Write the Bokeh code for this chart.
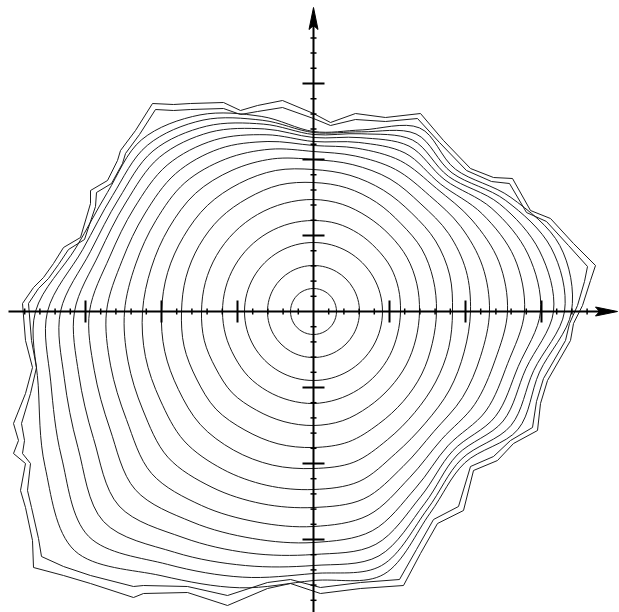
import math
from bokeh.plotting import figure
from bokeh.models import Range1d
from bokeh.embed import file_html
from bokeh.resources import INLINE

# ---- data (units: 1 unit ~ 1 px; minor tick every 15.2 units) ----
TICK_STEP = 15.2
N_TICKS = 19

ANGLES = [0, 15, 30, 45, 60, 75, 90, 105, 120, 135, 150, 165,
          180, 195, 210, 225, 240, 255, 270, 285, 300, 315, 330, 345]
R01 = [23] * 24
R02 = [46] * 24
R03 = [69] * 24
R04 = [87, 88, 89, 89, 90, 91, 91, 91, 91, 91, 91, 91,
       91, 91, 91, 92, 92, 92, 92, 91, 90, 89, 88, 87]
R05 = [106, 107, 108, 108, 109, 111, 112, 112, 112, 112, 112, 112,
       112, 113, 113, 115, 114, 114, 114, 113, 110, 108, 107, 106]
R06 = [123, 124, 125, 124, 126, 128, 129, 131, 131, 132, 132, 132,
       132, 134, 135, 138, 137, 137, 136, 135, 130, 127, 125, 123]
R07 = [139, 141, 141, 139, 140, 141, 142, 146, 148, 150, 150, 151,
       152, 154, 156, 160, 160, 159, 157, 156, 148, 143, 141, 140]
R08 = [157, 158, 156, 152, 153, 152, 152, 158, 163, 167, 167, 168,
       171, 174, 177, 183, 182, 180, 178, 176, 164, 158, 157, 156]
R09 = [176, 175, 170, 164, 164, 161, 160, 168, 176, 182, 182, 184,
       189, 192, 197, 206, 203, 199, 196, 194, 179, 170, 172, 173]
R10 = [194, 192, 183, 174, 174, 169, 166, 176, 188, 195, 195, 198,
       207, 210, 216, 229, 224, 218, 215, 211, 192, 181, 186, 188]
R11 = [211, 208, 195, 180, 183, 175, 170, 183, 198, 207, 207, 211,
       224, 227, 235, 252, 243, 235, 231, 227, 204, 190, 199, 201]
R12 = [227, 222, 206, 186, 191, 180, 174, 189, 207, 218, 217, 222,
       239, 243, 254, 275, 261, 250, 243, 241, 214, 197, 210, 212]
R13 = [240, 234, 215, 191, 198, 184, 177, 194, 214, 227, 225, 231,
       253, 258, 272, 297, 278, 263, 254, 253, 222, 203, 219, 220]
R14 = [251, 246, 222, 196, 205, 186, 179, 198, 221, 235, 232, 239,
       266, 272, 291, 318, 292, 275, 262, 263, 228, 209, 228, 228]
R15 = [258, 255, 228, 201, 212, 188, 180, 202, 227, 243, 238, 246,
       278, 285, 310, 338, 305, 286, 269, 272, 233, 214, 236, 234]
CONTOURS = [R01, R02, R03, R04, R05, R06, R07, R08, R09, R10, R11, R12,
            R13, R14, R15]

# second-outermost (rough) front, traced as vertices
SECOND_X = [0, 17, 42, 72, 104, 126, 153, 178, 196, 213, 233, 255, 274, 271,
            264, 256, 252, 230, 223, 219, 197, 180, 157, 145, 120, 103, 86,
            47, 7, -23, -46, -86, -126, -170, -180, -223, -250, -272, -275,
            -282, -286, -283, -291, -289, -292, -283, -277, -282, -285, -275,
            -265, -255, -245, -229, -218, -217, -202, -191, -188, -174, -158,
            -140, -123, -90, -73, -56, -31]
SECOND_Y = [193, 186, 192, 190, 193, 169, 141, 130, 128, 99, 90, 66, 45, 30,
            6, -12, -29, -67, -90, -116, -129, -145, -155, -195, -208, -238,
            -268, -271, -276, -268, -271, -284, -275, -274, -275, -264, -255,
            -245, -227, -196, -179, -152, -142, -129, -112, -82, -56, -29, 8,
            23, 33, 47, 62, 72, 105, 119, 128, 148, 158, 177, 202, 201, 202,
            203, 197, 200, 204]

# outermost (rough) front, traced as vertices
OUTER_X = [0, 17, 42, 72, 107, 130, 157, 180, 199, 217, 237, 260, 282, 277,
           269, 260, 257, 234, 227, 224, 200, 184, 160, 150, 124, 107, 90, 47,
           7, -23, -46, -86, -126, -170, -180, -223, -250, -280, -281, -288,
           -293, -288, -300, -295, -300, -288, -281, -288, -291, -280, -270,
           -260, -250, -233, -223, -223, -206, -196, -193, -178, -161, -140,
           -123, -90, -73, -56, -31]
OUTER_Y = [198, 189, 198, 194, 198, 171, 143, 134, 133, 101, 93, 68, 46, 31,
           6, -12, -29, -69, -92, -119, -132, -149, -159, -199, -212, -242,
           -274, -277, -282, -272, -277, -294, -281, -282, -286, -272, -264,
           -256, -229, -196, -179, -152, -142, -129, -112, -82, -56, -29, 8,
           24, 34, 48, 64, 74, 108, 121, 131, 151, 161, 181, 208, 207, 208,
           209, 201, 206, 211]

# ---- figure ----
p = figure(width=619, height=612, output_backend="svg", toolbar_location=None,
           x_range=Range1d(-313, 306), y_range=Range1d(-301, 311),
           x_axis_type=None, y_axis_type=None, min_border=0)
p.grid.visible = False
p.outline_line_color = None
p.background_fill_color = "white"

LINE = "#1c1c1c"


def smooth_closed(xs, ys):
    n = len(xs)
    x0, y0, x1, y1, cx0, cy0, cx1, cy1 = ([] for _ in range(8))
    for i in range(n):
        a, b = i - 1, (i + 1) % n
        c = (i + 2) % n
        x0.append(xs[i]); y0.append(ys[i])
        x1.append(xs[b]); y1.append(ys[b])
        cx0.append(xs[i] + (xs[b] - xs[a]) / 6.0)
        cy0.append(ys[i] + (ys[b] - ys[a]) / 6.0)
        cx1.append(xs[b] - (xs[c] - xs[i]) / 6.0)
        cy1.append(ys[b] - (ys[c] - ys[i]) / 6.0)
    p.bezier(x0=x0, y0=y0, x1=x1, y1=y1, cx0=cx0, cy0=cy0, cx1=cx1, cy1=cy1,
             line_color=LINE, line_width=1)


for radii in CONTOURS:
    xs = [r * math.cos(math.radians(a)) for r, a in zip(radii, ANGLES)]
    ys = [r * math.sin(math.radians(a)) for r, a in zip(radii, ANGLES)]
    smooth_closed(xs, ys)

for fx, fy in ((SECOND_X, SECOND_Y), (OUTER_X, OUTER_Y)):
    p.line(fx + fx[:1], fy + fy[:1], line_color=LINE, line_width=1)

# ---- axes through origin ----
AX = "black"
x_end, y_end = 304, 304
p.segment(x0=[-305, 0], y0=[0, -301], x1=[x_end - 15, 0], y1=[0, y_end - 15],
          line_color=AX, line_width=2)
# arrow heads
p.patch([x_end, x_end - 22, x_end - 18, x_end - 22], [0, 4.5, 0, -4.5],
        fill_color=AX, line_color=AX, line_width=1)
p.patch([0, 4.5, 0, -4.5], [y_end, y_end - 22, y_end - 18, y_end - 22],
        fill_color=AX, line_color=AX, line_width=1)

ks = [k for k in range(-N_TICKS, N_TICKS + 1) if k != 0]
minor = [k * TICK_STEP for k in ks if k % 5 != 0]
major = [k * TICK_STEP for k in ks if k % 5 == 0]
minor_x = [v for v in minor if v < x_end - 20]
minor_y = [v for v in minor if v < y_end - 20]
p.segment(x0=minor_x, y0=[-3] * len(minor_x), x1=minor_x, y1=[3] * len(minor_x),
          line_color=AX, line_width=1.5)
p.segment(x0=[-3] * len(minor_y), y0=minor_y, x1=[3] * len(minor_y), y1=minor_y,
          line_color=AX, line_width=1.5)
p.segment(x0=major, y0=[-11] * len(major), x1=major, y1=[11] * len(major),
          line_color=AX, line_width=2)
p.segment(x0=[-11] * len(major), y0=major, x1=[11] * len(major), y1=major,
          line_color=AX, line_width=2)

open("out.html", "w").write(file_html(p, INLINE))
